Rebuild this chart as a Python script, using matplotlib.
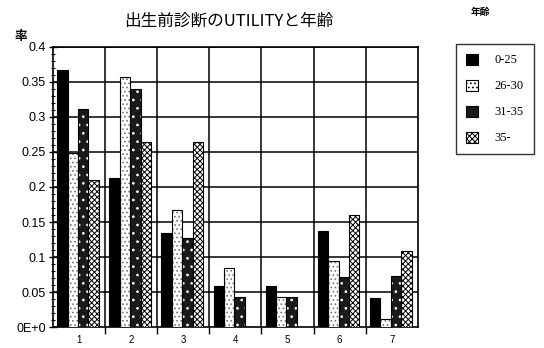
import numpy as np
import matplotlib.pyplot as plt
from matplotlib.patches import Patch
from matplotlib.ticker import MultipleLocator, FixedLocator

plt.rcParams['font.family'] = ['Noto Sans CJK JP', 'DejaVu Sans']
plt.rcParams['hatch.linewidth'] = 0.7

# data
categories = ['1', '2', '3', '4', '5', '6', '7']
groups = ['0-25', '26-30', '31-35', '35-']
v_0_25 = [0.367, 0.213, 0.135, 0.058, 0.058, 0.137, 0.041]
v_26_30 = [0.248, 0.357, 0.167, 0.084, 0.043, 0.095, 0.012]
v_31_35 = [0.311, 0.340, 0.127, 0.043, 0.043, 0.072, 0.073]
v_35 = [0.210, 0.264, 0.264, 0.0, 0.0, 0.160, 0.108]
y_ticks = [0, 0.05, 0.1, 0.15, 0.2, 0.25, 0.3, 0.35, 0.4]
y_ticklabels = ['0E+0', '0.05', '0.1', '0.15', '0.2', '0.25', '0.3', '0.35', '0.4']

series = [v_0_25, v_26_30, v_31_35, v_35]
# (face, hatch, hatch colour)
styles = [('black', None, 'black'),
          ('white', '....', '#777777'),
          ('#1a1a1a', '..', 'white'),
          ('white', 'xxxxxx', 'black')]

fig = plt.figure(figsize=(5.44, 3.48), dpi=100)
ax = fig.add_axes([0.0974, 0.0603, 0.6706, 0.8047])

x = np.arange(len(categories))
w = 0.2
for i, (vals, (fc, hatch, hc)) in enumerate(zip(series, styles)):
    pos = x + (i - 1.5) * w - 0.02
    ax.bar(pos, vals, width=w, color=fc, edgecolor=hc, hatch=hatch, linewidth=0, zorder=3)
    ax.bar(pos, vals, width=w, facecolor='none', edgecolor='black', linewidth=0.8, zorder=4)

ax.set_xlim(-0.5, len(categories) - 0.5)
ax.set_ylim(0, 0.4)

ax.set_xticks(x)
ax.set_xticklabels(categories, fontsize=7, family='Liberation Sans')
ax.tick_params(axis='x', which='major', length=0, pad=6)
ax.xaxis.set_minor_locator(FixedLocator(np.arange(0.5, len(categories) - 0.5, 1)))
ax.tick_params(axis='x', which='minor', length=5, direction='out', width=1)

ax.set_yticks(y_ticks)
ax.set_yticklabels(y_ticklabels, fontsize=9, family='Liberation Sans')
ax.yaxis.set_minor_locator(MultipleLocator(0.01))
ax.tick_params(axis='y', which='major', length=6, direction='inout', width=1, pad=2)
ax.tick_params(axis='y', which='minor', length=3, direction='inout', width=0.8)

# grid: horizontal at every major y tick, vertical at category borders
for yv in y_ticks[1:]:
    ax.axhline(yv, color='black', linewidth=1.1, zorder=1)
for xb in np.arange(0.5, len(categories) - 0.5, 1):
    ax.axvline(xb, color='black', linewidth=1.1, zorder=1)

for s in ax.spines.values():
    s.set_linewidth(1.2)

fig.text(0.42, 0.94, '出生前診断のUTILITYと年齢', ha='center', va='center', fontsize=12)
fig.text(0.026, 0.895, '率', ha='left', va='center', fontsize=9, fontweight='bold')
fig.text(0.865, 0.965, '年齢', ha='left', va='center', fontsize=7, fontweight='bold')

handles = [Patch(facecolor=fc, edgecolor='black', hatch=hatch, linewidth=0.8)
           for (fc, hatch, hc) in styles]
handles[2] = Patch(facecolor='#1a1a1a', edgecolor='black', linewidth=0.8)
leg = fig.legend(handles, groups, loc='upper left', bbox_to_anchor=(0.838, 0.875),
                 prop={'family': 'Liberation Serif', 'size': 9}, frameon=True,
                 fancybox=False, edgecolor='black', handlelength=1.0, handleheight=1.0,
                 labelspacing=1.05, handletextpad=1.3, borderpad=0.8, borderaxespad=0)
leg.get_frame().set_linewidth(1.0)

plt.savefig('out.png', dpi=100)
